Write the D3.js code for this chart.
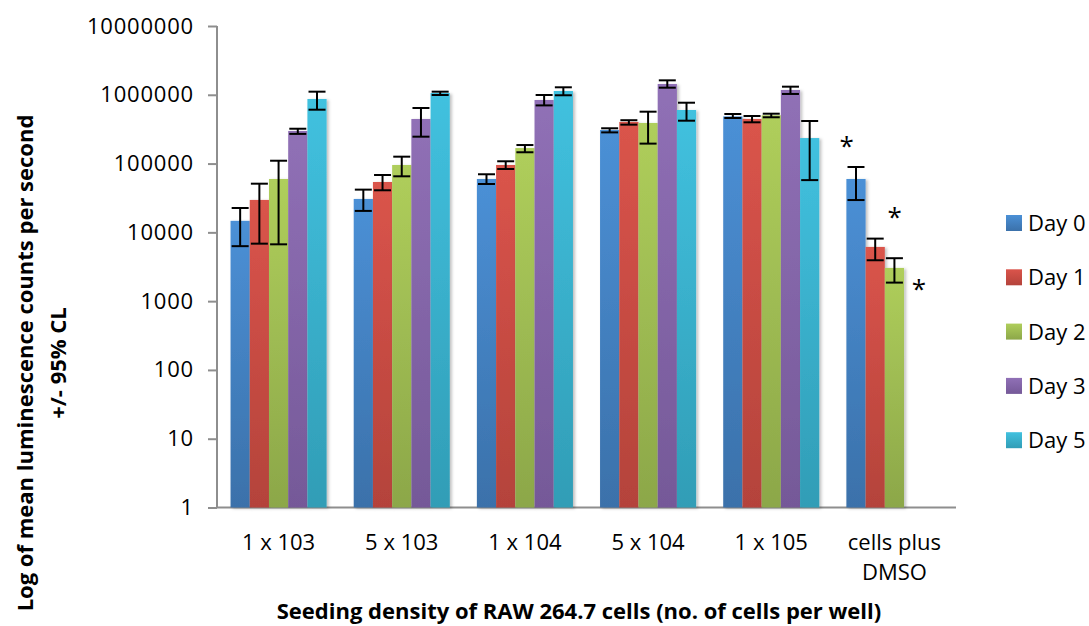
<!DOCTYPE html>
<html>
<head>
<meta charset="utf-8">
<script src="https://cdn.jsdelivr.net/npm/d3@7"></script>
<style>
    body { margin: 0; background: #fff; }
    text { font-family: "Open Sans", sans-serif; fill: #000; }
</style>
</head>
<body>
<svg id="svgID" width="1089" height="626"></svg>
<script>
let svg = d3.select("#svgID");
let width = +svg.attr("width");
let height = +svg.attr("height");

//! DATA
let categories = ["1 x 103", "5 x 103", "1 x 104", "5 x 104", "1 x 105", "cells plus\nDMSO"];
let seriesNames = ["Day 0", "Day 1", "Day 2", "Day 3", "Day 5"];

// mean values per series (null = no bar)
let day0 = [14700, 30600, 59700, 308000, 485000, 59700];
let day1 = [29600, 54000, 95400, 403000, 445000, 6140];
let day2 = [59700, 95400, 168000, 389000, 504000, 3040];
let day3 = [298000, 445000, 840000, 1435000, 1175000, null];
let day5 = [869000, 1062000, 1135000, 601000, 235000, null];

// 95% CL upper / lower
let day0Hi = [22600, 41800, 69900, 326000, 526000, 89100];
let day0Lo = [6300, 20500, 50500, 284000, 460000, 29500];
let day1Hi = [51000, 68200, 108000, 427000, 492000, 8110];
let day1Lo = [6850, 40900, 83400, 368000, 398000, 3930];
let day2Hi = [110000, 126000, 186000, 568000, 531000, 4210];
let day2Lo = [6700, 65300, 146000, 195000, 471000, 1860];
let day3Hi = [321000, 643000, 993000, 1622000, 1312000, null];
let day3Lo = [270000, 246000, 701000, 1268000, 1028000, null];
let day5Hi = [1110000, 1110000, 1285000, 767000, 416000, null];
let day5Lo = [607000, 993000, 984000, 420000, 57500, null];

let yTicks = [1, 10, 100, 1000, 10000, 100000, 1000000, 10000000];

// significance markers: [category index, series index]
let stars = [[5, 0], [5, 1], [5, 2]];

let colorsTop = ["#4b90d6", "#da544b", "#afce5b", "#9070b6", "#41c1df"];
let colorsBottom = ["#3b71aa", "#b4433b", "#8ca749", "#755998", "#319db6"];

let values = [day0, day1, day2, day3, day5];
let his = [day0Hi, day1Hi, day2Hi, day3Hi, day5Hi];
let los = [day0Lo, day1Lo, day2Lo, day3Lo, day5Lo];

let data = [];
categories.forEach(function (c, i) {
    seriesNames.forEach(function (s, j) {
        if (values[j][i] != null) {
            data.push({ cat: c, series: s, si: j, value: values[j][i], hi: his[j][i], lo: los[j][i] });
        }
    });
});

//? Layout
let plotLeft = 217, plotRight = 956, plotTop = 26, plotBottom = 507.5;

let x = d3.scaleBand().domain(categories).range([plotLeft, plotRight]).paddingInner(0.22).paddingOuter(0.11);
let xs = d3.scaleBand().domain(seriesNames).range([0, x.bandwidth()]);
let y = d3.scaleLog().domain([1, 10000000]).range([plotBottom, plotTop]);

//? Gradients + shadow
let defs = svg.append("defs");
seriesNames.forEach(function (s, j) {
    let g = defs.append("linearGradient")
        .attr("id", "grad" + j)
        .attr("x1", 0).attr("y1", 0).attr("x2", 0).attr("y2", 1);
    g.append("stop").attr("offset", "0%").attr("stop-color", colorsTop[j]);
    g.append("stop").attr("offset", "100%").attr("stop-color", colorsBottom[j]);
});
let f = defs.append("filter").attr("id", "shadow")
    .attr("x", "-20%").attr("y", "-5%").attr("width", "150%").attr("height", "110%");
f.append("feDropShadow")
    .attr("dx", 2).attr("dy", 1).attr("stdDeviation", 1.5)
    .attr("flood-color", "#000").attr("flood-opacity", 0.25);

//? Axes
let yAxis = svg.append("g")
    .attr("transform", "translate(" + plotLeft + ",0)")
    .call(d3.axisLeft(y).tickValues(yTicks).tickFormat(d3.format("d")).tickSize(9).tickPadding(14));
yAxis.select(".domain").attr("stroke", "#8e8e8e").attr("stroke-width", 2).attr("d", "M0," + plotTop + "V" + plotBottom);
yAxis.selectAll(".tick line").attr("stroke", "#8e8e8e").attr("stroke-width", 2);
yAxis.selectAll(".tick text")
    .style("font-size", "22px")
    .style("font-family", "Open Sans")
    .style("letter-spacing", "0.8px");

svg.append("line")
    .attr("x1", plotLeft).attr("x2", plotRight)
    .attr("y1", plotBottom).attr("y2", plotBottom)
    .attr("stroke", "#8e8e8e").attr("stroke-width", 2);

//? Bars
let bars = svg.append("g").attr("class", "bars")
    .selectAll("rect")
    .data(data)
    .enter()
    .append("rect")
    .attr("x", function (d) { return x(d.cat) + xs(d.series); })
    .attr("y", function (d) { return y(d.value); })
    .attr("width", xs.bandwidth())
    .attr("height", function (d) { return plotBottom - y(d.value); })
    .attr("fill", function (d) { return "url(#grad" + d.si + ")"; })
    .attr("filter", "url(#shadow)");

//? Error bars
let capW = 8.5;
let err = svg.append("g").attr("class", "errors")
    .selectAll("g")
    .data(data)
    .enter()
    .append("g")
    .attr("stroke", "#000")
    .attr("stroke-width", 2);
err.append("line")
    .attr("x1", function (d) { return x(d.cat) + xs(d.series) + xs.bandwidth() / 2; })
    .attr("x2", function (d) { return x(d.cat) + xs(d.series) + xs.bandwidth() / 2; })
    .attr("y1", function (d) { return y(d.hi); })
    .attr("y2", function (d) { return y(d.lo); });
err.append("line")
    .attr("x1", function (d) { return x(d.cat) + xs(d.series) + xs.bandwidth() / 2 - capW; })
    .attr("x2", function (d) { return x(d.cat) + xs(d.series) + xs.bandwidth() / 2 + capW; })
    .attr("y1", function (d) { return y(d.hi); })
    .attr("y2", function (d) { return y(d.hi); });
err.append("line")
    .attr("x1", function (d) { return x(d.cat) + xs(d.series) + xs.bandwidth() / 2 - capW; })
    .attr("x2", function (d) { return x(d.cat) + xs(d.series) + xs.bandwidth() / 2 + capW; })
    .attr("y1", function (d) { return y(d.lo); })
    .attr("y2", function (d) { return y(d.lo); });

//? Stars
let starPos = [[-7, -12], [22, -13], [27, 40]];
svg.append("g").selectAll("text")
    .data(stars)
    .enter()
    .append("text")
    .attr("x", function (d, i) { return x(categories[d[0]]) + xs(seriesNames[d[1]]) + starPos[i][0]; })
    .attr("y", function (d, i) { return y(his[d[1]][d[0]]) + starPos[i][1]; })
    .style("font-size", "26px")
    .text("*");

//? Category labels
let catLabels = svg.append("g").selectAll("text")
    .data(categories)
    .enter()
    .append("text")
    .attr("text-anchor", "middle")
    .attr("x", function (d) { return x(d) + x.bandwidth() / 2; })
    .attr("y", 550)
    .style("font-size", "22px");
catLabels.each(function (d) {
    let t = d3.select(this);
    d.split("\n").forEach(function (line, k) {
        t.append("tspan")
            .attr("x", x(d) + x.bandwidth() / 2)
            .attr("dy", k === 0 ? 0 : 30)
            .text(line);
    });
});

//? Axis titles
svg.append("text")
    .attr("text-anchor", "middle")
    .attr("x", 579).attr("y", 619)
    .style("font-size", "22px").style("font-weight", "bold")
    .text("Seeding density of RAW 264.7 cells (no. of cells per well)");

let yTitle = svg.append("text")
    .attr("text-anchor", "middle")
    .attr("transform", "translate(33,363) rotate(-90)")
    .style("font-size", "22px").style("font-weight", "bold");
yTitle.append("tspan").attr("x", 0).attr("dy", 0).text("Log of mean luminescence counts per second");
yTitle.append("tspan").attr("x", 0).attr("dy", 33).text("+/- 95% CL");

//? Legend
let legend = svg.append("g").selectAll("g")
    .data(seriesNames)
    .enter()
    .append("g")
    .attr("transform", function (d, i) { return "translate(1006," + (215 + i * 54.3) + ")"; });
legend.append("rect")
    .attr("width", 16).attr("height", 16)
    .attr("fill", function (d, i) { return "url(#grad" + i + ")"; });
legend.append("text")
    .attr("x", 22).attr("y", 16)
    .style("font-size", "22px")
    .text(function (d) { return d; });
</script>
</body>
</html>
